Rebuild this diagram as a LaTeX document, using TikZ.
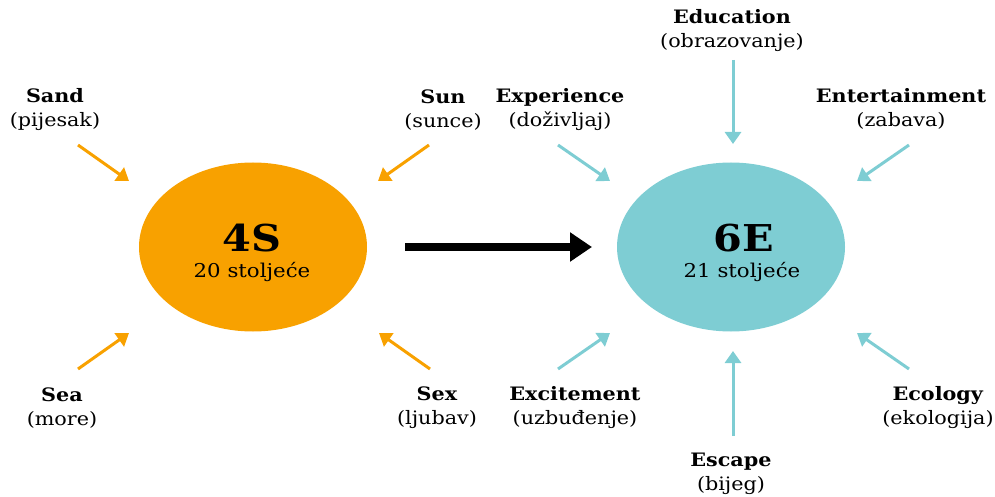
\documentclass[tikz,border=0pt]{standalone}
\usepackage{fontspec}
\setmainfont{DejaVu Serif}[FakeStretch=1.12]
\usetikzlibrary{arrows.meta,shapes.geometric}
\definecolor{sorange}{RGB}{248,161,0}
\definecolor{steal}{RGB}{126,205,211}
\begin{document}
\begin{tikzpicture}[x=1pt,y=-1pt,
  blob/.style={ellipse,minimum width=228pt,minimum height=169pt,inner sep=0pt},
  lbl/.style={align=center,font=\fontsize{18.5}{24}\selectfont,inner sep=0pt},
  oarr/.style={draw=sorange,line width=3pt,-{Triangle[width=16pt,length=12pt]}},
  tarr/.style={draw=steal,line width=3pt,-{Triangle[width=16pt,length=12pt]}},
  big/.style={font=\fontsize{37}{37}\selectfont\bfseries,inner sep=0pt},
  small/.style={font=\fontsize{19}{19}\selectfont,inner sep=0pt}]
\useasboundingbox (0,0) rectangle (995,497);
% circles
\node[blob,fill=sorange] (fs) at (253,247) {};
\node[blob,fill=steal] (six) at (731,247) {};
\node[big] (fsT) at (252,238) {4S};
\node[small] (fsS) at (252,272) {20 stoljeće};
\node[big] (sixT) at (744,238) {6E};
\node[small] (sixS) at (742,272) {21 stoljeće};
% main arrow
\coordinate (ma) at (405,247);
\coordinate (mb) at (592,247);
\draw[line width=8pt,-{Triangle[width=28pt,length=22pt]}] (ma) -- (mb);
% labels
\node[lbl] (sand) at (55,110) {\textbf{Sand}\\(pijesak)};
\node[lbl] (sun) at (443,110) {\textbf{Sun}\\(sunce)};
\node[lbl] (sea) at (62,408) {\textbf{Sea}\\(more)};
\node[lbl] (sex) at (437,408) {\textbf{Sex}\\(ljubav)};
\node[lbl] (exp) at (560,110) {\textbf{Experience}\\(doživljaj)};
\node[lbl] (edu) at (732,31) {\textbf{Education}\\(obrazovanje)};
\node[lbl] (ent) at (901,109) {\textbf{Entertainment}\\(zabava)};
\node[lbl] (exc) at (575,408) {\textbf{Excitement}\\(uzbuđenje)};
\node[lbl] (esc) at (731,474) {\textbf{Escape}\\(bijeg)};
\node[lbl] (eco) at (938,408) {\textbf{Ecology}\\(ekologija)};
% arrow coordinates
\coordinate (sandA) at (78,145);  \coordinate (sandB) at (129,181);
\coordinate (sunA) at (429,145);  \coordinate (sunB) at (378,181);
\coordinate (seaA) at (78,369);   \coordinate (seaB) at (129,333);
\coordinate (sexA) at (430,369);  \coordinate (sexB) at (379,333);
\coordinate (expA) at (558,145);  \coordinate (expB) at (610,181);
\coordinate (eduA) at (733,60);   \coordinate (eduB) at (733,144);
\coordinate (entA) at (909,145);  \coordinate (entB) at (857,181);
\coordinate (excA) at (558,369);  \coordinate (excB) at (610,333);
\coordinate (escA) at (733,436);  \coordinate (escB) at (733,351);
\coordinate (ecoA) at (909,369);  \coordinate (ecoB) at (857,333);
\draw[oarr] (sandA) -- (sandB);
\draw[oarr] (sunA) -- (sunB);
\draw[oarr] (seaA) -- (seaB);
\draw[oarr] (sexA) -- (sexB);
\draw[tarr] (expA) -- (expB);
\draw[tarr] (eduA) -- (eduB);
\draw[tarr] (entA) -- (entB);
\draw[tarr] (excA) -- (excB);
\draw[tarr] (escA) -- (escB);
\draw[tarr] (ecoA) -- (ecoB);
\end{tikzpicture}
\end{document}
